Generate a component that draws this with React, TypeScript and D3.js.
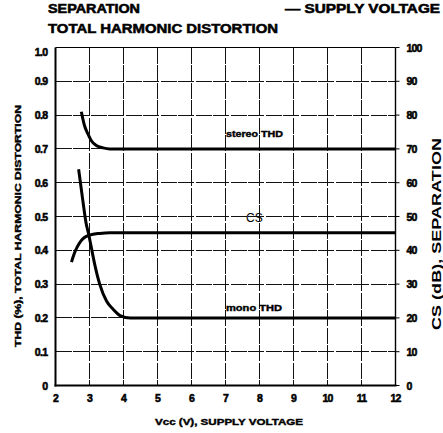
import React from "react";
import * as d3 from "d3";

const xTicks = [2, 3, 4, 5, 6, 7, 8, 9, 10, 11, 12];
const leftTicks = [0, 0.1, 0.2, 0.3, 0.4, 0.5, 0.6, 0.7, 0.8, 0.9, 1.0];
const leftTickLabels = ["0", "0.1", "0.2", "0.3", "0.4", "0.5", "0.6", "0.7", "0.8", "0.9", "1.0"];
const rightTicks = [0, 10, 20, 30, 40, 50, 60, 70, 80, 90, 100];

const stereoX = [2.76, 2.85, 2.95, 3.05, 3.2, 3.4, 3.6, 4.0, 12];
const stereoY = [0.81, 0.77, 0.745, 0.725, 0.71, 0.703, 0.7, 0.7, 0.7];

const monoX = [2.68, 2.8, 2.9, 2.97, 3.05, 3.15, 3.3, 3.5, 3.7, 3.9, 4.2, 5, 12];
const monoY = [0.64, 0.55, 0.48, 0.45, 0.41, 0.36, 0.3, 0.25, 0.225, 0.207, 0.2, 0.2, 0.2];

const csX = [2.47, 2.55, 2.64, 2.75, 2.85, 3.0, 3.3, 3.6, 4.0, 12];
const csY = [36.5, 39, 41, 42.8, 43.8, 44.5, 45, 45.2, 45.2, 45.2];

const W = 443, H = 433;
const L = 55.5, R = 395.5, T = 47.5, B = 385.5;

export default function App() {
  const x = d3.scaleLinear().domain([2, 12]).range([L, R]);
  const yl = d3.scaleLinear().domain([0, 1]).range([B, T]);
  const yr = d3.scaleLinear().domain([0, 100]).range([B, T]);

  const line = d3.line<[number, number]>().x((d) => x(d[0])).curve(d3.curveMonotoneX);
  const stereoPath = line.y((d) => yl(d[1]))(stereoX.map((v, i) => [v, stereoY[i]]) as [number, number][]);
  const monoPath = line.y((d) => yl(d[1]))(monoX.map((v, i) => [v, monoY[i]]) as [number, number][]);
  const csPath = line.y((d) => yr(d[1]))(csX.map((v, i) => [v, csY[i]]) as [number, number][]);

  const font = "'Liberation Sans', Arial, sans-serif";
  const bold = { fontFamily: font, fontWeight: 700 as const, stroke: "#000", strokeWidth: 0.55 };
  const boldS = { fontFamily: font, fontWeight: 700 as const, stroke: "#000", strokeWidth: 0.4 };
  const fit = { lengthAdjust: "spacingAndGlyphs" as const };

  return (
    <svg width={W} height={H} style={{ position: "absolute", left: 0, top: 0, background: "#fff" }}>
      {/* Titles */}
      <text x={48} y={13} fontSize={12.5} {...bold} {...fit} textLength={92}>SEPARATION</text>
      <text x={48} y={32.5} fontSize={13.5} {...bold} {...fit} textLength={230}>TOTAL HARMONIC DISTORTION</text>
      <text x={285} y={13} fontSize={12.5} {...bold} {...fit} textLength={155}>— SUPPLY VOLTAGE</text>

      {/* grid */}
      {xTicks.slice(1, -1).map((t) => (
        <line key={"gx" + t} x1={x(t)} x2={x(t)} y1={T} y2={B} stroke="#111" strokeWidth={1} strokeDasharray="16,1.5" shapeRendering="crispEdges" />
      ))}
      {leftTicks.slice(1, -1).map((t) => (
        <line key={"gy" + t} x1={L} x2={R} y1={yl(t)} y2={yl(t)} stroke="#111" strokeWidth={1} strokeDasharray="16,1.5" shapeRendering="crispEdges" />
      ))}

      {/* frame */}
      <line x1={L} x2={R} y1={T} y2={T} stroke="#000" strokeWidth={1.2} />
      <line x1={R} x2={R} y1={T} y2={B} stroke="#000" strokeWidth={1.4} />
      <line x1={L} x2={L} y1={T} y2={B + 1} stroke="#000" strokeWidth={2} />
      <line x1={L - 1} x2={R + 1} y1={B} y2={B} stroke="#000" strokeWidth={2} />

      {/* right ticks */}
      {rightTicks.map((t) => (
        <line key={"rt" + t} x1={R} x2={R + 4} y1={yr(t)} y2={yr(t)} stroke="#000" strokeWidth={1} />
      ))}

      {/* left tick labels */}
      {leftTicks.map((t, i) => (
        <text key={"lt" + t} x={L - 8} y={yl(t) + 4 + (t === 1 ? 4 : 0)} fontSize={10.5} textAnchor="end" {...bold} letterSpacing={-0.6}>
          {leftTickLabels[i]}
        </text>
      ))}
      {/* right tick labels */}
      {rightTicks.map((t) => (
        <text key={"rl" + t} x={R + 11} y={yr(t) + 4} fontSize={10.5} textAnchor="start" {...bold} letterSpacing={-0.8}>
          {t}
        </text>
      ))}
      {/* x tick labels */}
      {xTicks.map((t) => (
        <text key={"xt" + t} x={x(t)} y={B + 16} fontSize={10.5} textAnchor="middle" {...bold} letterSpacing={-0.8}>
          {t}
        </text>
      ))}

      {/* axis titles */}
      <text x={229} y={425} fontSize={9} textAnchor="middle" {...boldS} {...fit} textLength={148}>
        Vcc (V), SUPPLY VOLTAGE
      </text>
      <text
        transform={`translate(20.5, 226) rotate(-90)`}
        fontSize={9}
        textAnchor="middle"
        {...boldS}
        {...fit}
        textLength={242}
      >
        THD (%), TOTAL HARMONIC DISTORTION
      </text>
      <text
        transform={`translate(441, 234) rotate(-90)`}
        fontSize={13}
        textAnchor="middle"
        fontFamily={font}
        fontWeight={700}
        {...fit}
        textLength={192}
      >
        CS (dB), SEPARATION
      </text>

      {/* curves */}
      <path d={stereoPath || ""} fill="none" stroke="#000" strokeWidth={3} />
      <path d={monoPath || ""} fill="none" stroke="#000" strokeWidth={3} />
      <path d={csPath || ""} fill="none" stroke="#000" strokeWidth={3} />

      {/* curve labels */}
      <text x={226} y={137} fontSize={9} {...boldS} {...fit} textLength={57}>stereo THD</text>
      <text x={246} y={222} fontSize={12} fontFamily={font}>CS</text>
      <text x={226} y={311} fontSize={9} {...boldS} {...fit} textLength={56}>mono THD</text>
    </svg>
  );
}
